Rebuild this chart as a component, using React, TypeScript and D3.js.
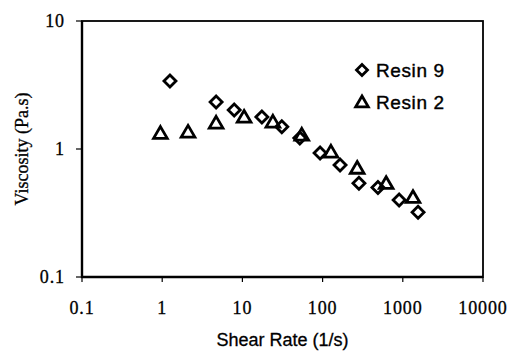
import * as d3 from "d3";
import { useRef, useEffect } from "react";

const resin9Rate = [1.25, 4.7, 7.9, 17.5, 31, 52, 93, 165, 284, 490, 900, 1550];
const resin9Visc = [3.4, 2.33, 2.02, 1.78, 1.49, 1.22, 0.93, 0.75, 0.54, 0.5, 0.4, 0.32];
const resin2Rate = [0.95, 2.1, 4.7, 10.5, 24, 55, 127, 270, 620, 1340];
const resin2Visc = [1.33, 1.36, 1.6, 1.78, 1.63, 1.29, 0.95, 0.71, 0.54, 0.42];
const xTicks = [0.1, 1, 10, 100, 1000, 10000];
const yTicks = [0.1, 1, 10];
const seriesNames = ["Resin 9", "Resin 2"];

const width = 512;
const height = 351;
const margin = { top: 21, right: 29, bottom: 74, left: 82 };

const diamond = (s: number) => `M0,${-s}L${s},0L0,${s}L${-s},0Z`;
const triangle = (s: number) =>
  `M0,${-s}L${s * 1.05},${s * 0.8}L${-s * 1.05},${s * 0.8}Z`;

export default function App() {
  const svgRef = useRef<SVGSVGElement>(null);

  useEffect(() => {
    if (!svgRef.current) return;
    const svg = d3.select(svgRef.current);
    svg.selectAll("*").remove();

    const x = d3.scaleLog([0.1, 10000], [margin.left, width - margin.right]);
    const y = d3.scaleLog([0.1, 10], [height - margin.bottom, margin.top]);

    // frame
    svg
      .append("rect")
      .attr("x", x(0.1))
      .attr("y", y(10))
      .attr("width", x(10000) - x(0.1))
      .attr("height", y(0.1) - y(10))
      .attr("fill", "none")
      .attr("stroke", "#000")
      .attr("stroke-width", 1.8);
    svg
      .append("path")
      .attr("d", `M${x(0.1)},${y(10)}V${y(0.1)}H${x(10000)}`)
      .attr("fill", "none")
      .attr("stroke", "#000")
      .attr("stroke-width", 2.4);

    // x ticks
    const gx = svg.append("g");
    xTicks.forEach((t) => {
      gx.append("line")
        .attr("x1", x(t))
        .attr("x2", x(t))
        .attr("y1", y(0.1))
        .attr("y2", y(0.1) + 5)
        .attr("stroke", "#000")
        .attr("stroke-width", 1.2);
      gx.append("text")
        .attr("x", x(t))
        .attr("y", 314)
        .attr("text-anchor", "middle")
        .attr("font-family", "Liberation Serif, serif")
        .attr("font-size", 18)
        .attr("letter-spacing", 0.9)
        .attr("stroke", "#000")
        .attr("stroke-width", 0.3)
        .text(String(t));
    });

    // y ticks
    const gy = svg.append("g");
    yTicks.forEach((t) => {
      gy.append("line")
        .attr("x1", x(0.1) - 6)
        .attr("x2", x(0.1))
        .attr("y1", y(t))
        .attr("y2", y(t))
        .attr("stroke", "#000")
        .attr("stroke-width", 1.2);
      gy.append("text")
        .attr("x", 65)
        .attr("y", y(t) + 6)
        .attr("text-anchor", "end")
        .attr("font-family", "Liberation Serif, serif")
        .attr("font-size", 18)
        .attr("letter-spacing", 0.9)
        .attr("stroke", "#000")
        .attr("stroke-width", 0.3)
        .text(String(t));
    });

    // axis titles
    svg
      .append("text")
      .attr("x", (x(0.1) + x(10000)) / 2)
      .attr("y", 346)
      .attr("text-anchor", "middle")
      .attr("font-family", "Liberation Sans, Arial, sans-serif")
      .attr("font-size", 18)
      .attr("stroke", "#000")
      .attr("stroke-width", 0.3)
      .text("Shear Rate (1/s)");
    svg
      .append("text")
      .attr("transform", `translate(28,${y(1)}) rotate(-90)`)
      .attr("text-anchor", "middle")
      .attr("font-family", "Liberation Serif, serif")
      .attr("font-size", 18)
      .attr("stroke", "#000")
      .attr("stroke-width", 0.3)
      .text("Viscosity (Pa.s)");

    const marks = svg.append("g").attr("fill", "none").attr("stroke", "#000").attr("stroke-width", 2.8);
    resin9Rate.forEach((r, i) => {
      marks
        .append("path")
        .attr("transform", `translate(${x(r)},${y(resin9Visc[i])})`)
        .attr("d", diamond(6));
    });
    resin2Rate.forEach((r, i) => {
      marks
        .append("path")
        .attr("transform", `translate(${x(r)},${y(resin2Visc[i])})`)
        .attr("d", triangle(6.5));
    });

    // legend
    const lg = svg.append("g");
    seriesNames.forEach((name, i) => {
      const cy = 70 + i * 32;
      lg.append("path")
        .attr("transform", `translate(362,${cy})`)
        .attr("d", i === 0 ? diamond(5.5) : triangle(6))
        .attr("fill", "none")
        .attr("stroke", "#000")
        .attr("stroke-width", 2.8);
      lg.append("text")
        .attr("x", 376)
        .attr("y", cy + 7)
        .attr("font-family", "Liberation Sans, Arial, sans-serif")
        .attr("font-size", 19)
        .attr("letter-spacing", 0.6)
        .attr("stroke", "#000")
        .attr("stroke-width", 0.4)
        .text(name);
    });
  }, []);

  return (
    <svg
      ref={svgRef}
      width={width}
      height={height}
      style={{ position: "absolute", left: 0, top: 0, background: "#fff" }}
    />
  );
}
